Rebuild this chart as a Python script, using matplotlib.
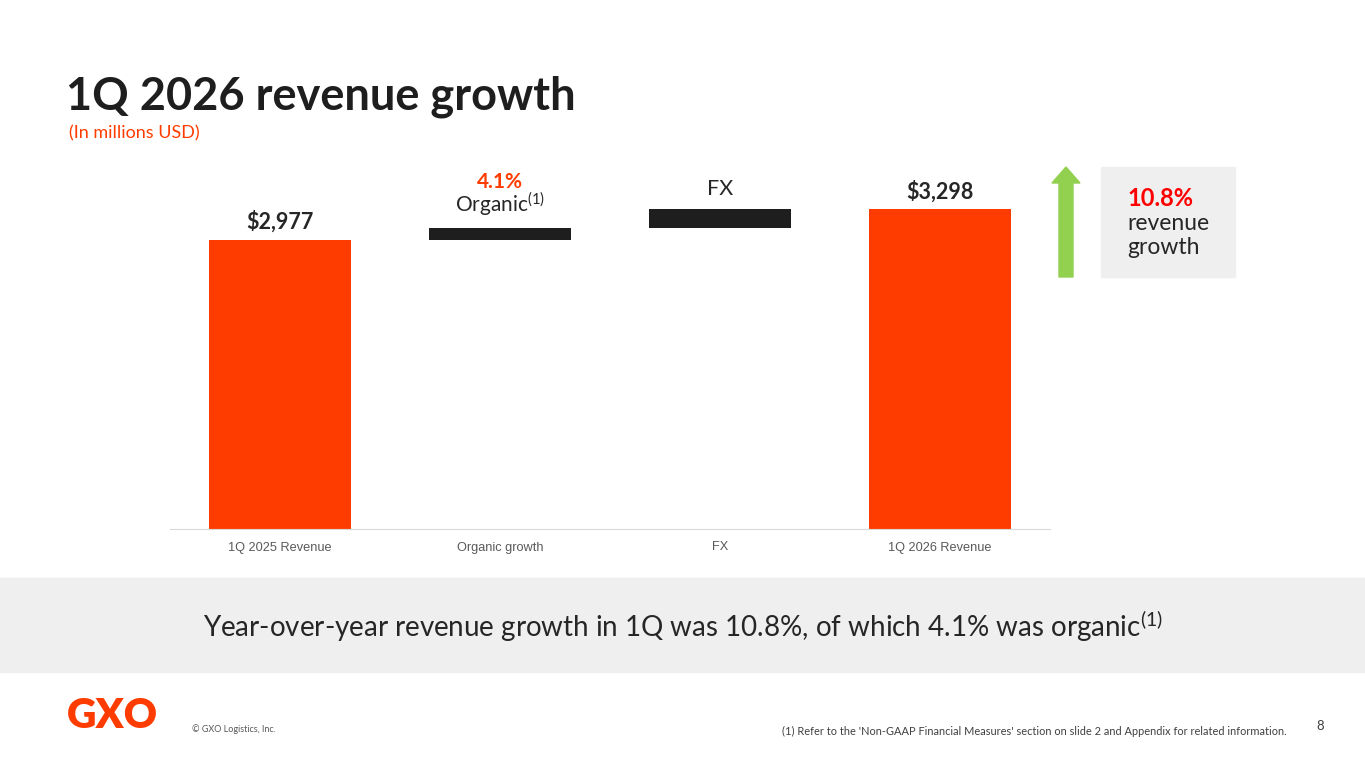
import matplotlib
matplotlib.use('Agg')
import matplotlib.pyplot as plt
from matplotlib.patches import Rectangle, FancyArrow

plt.rcParams['font.family'] = ['Lato', 'DejaVu Sans']
plt.rcParams['mathtext.default'] = 'regular'

categories = ['1Q 2025 Revenue', 'Organic growth', 'FX', '1Q 2026 Revenue']
start_rev = 2977
organic = 122
fx = 199
end_rev = 3298

heights = [start_rev, organic, fx, end_rev]
bottoms = [0, start_rev, start_rev + organic, 0]
colors = ['#FF3C00', '#1E1E1E', '#1E1E1E', '#FF3C00']

orange = '#FF3C00'
dark = '#1E1E1E'

fig = plt.figure(figsize=(13.65, 7.68), dpi=100)

# axes: x 170..1050 px, baseline y=529, 2977 -> y=240
px_per_unit = (529 - 240) / start_rev
ax_top_px = 150
ax = fig.add_axes([170 / 1365, 1 - 529 / 768, 880 / 1365, (529 - ax_top_px) / 768])
ax.bar(range(4), heights, bottom=bottoms, width=0.645, color=colors)
ax.set_xlim(-0.5, 3.5)
ax.set_ylim(0, (529 - ax_top_px) / px_per_unit)
ax.set_xticks(range(4))
ax.set_xticklabels(categories, fontsize=9.2, color='#595959', family='Liberation Sans')
ax.tick_params(axis='x', length=0, pad=9)
ax.set_yticks([])
for s in ['top', 'right', 'left']:
    ax.spines[s].set_visible(False)
ax.spines['bottom'].set_color('#D9D9D9')

# bar labels
ax.text(0, start_rev + 75, r'\$2,977', ha='center', va='bottom',
        fontsize=15.5, fontweight='bold', color='#262626')
ax.text(1, start_rev + organic + 100, 'Organic$^{(1)}$', ha='center', va='bottom',
        fontsize=15, color='#262626')
ax.text(1, start_rev + organic + 370, '4.1%', ha='center', va='bottom',
        fontsize=15, fontweight='bold', color=orange)
ax.text(2, start_rev + organic + fx + 100, 'FX', ha='center', va='bottom',
        fontsize=15.5, color='#262626')
ax.text(3, end_rev + 65, r'\$3,298', ha='center', va='bottom',
        fontsize=15.5, fontweight='bold', color='#262626')

# title
fig.text(66 / 1365, 1 - 97 / 768, '1Q 2026 revenue growth', fontsize=32.5, fontweight='bold',
         color='#1E1E1E', va='center', ha='left')
fig.text(69 / 1365, 1 - 133 / 768, '(In millions USD)', fontsize=13, color=orange,
         va='center', ha='left')

# growth arrow and box
fig.patches.append(FancyArrow(1066 / 1365, 1 - 277 / 768, 0, 110 / 768, width=14 / 1365,
                              head_width=28 / 1365, head_length=16 / 768,
                              length_includes_head=True, color='#92D050',
                              transform=fig.transFigure, figure=fig))
fig.patches.append(Rectangle((1101 / 1365, 1 - 277 / 768), 134 / 1365, 110 / 768,
                             color='#EFEFEF', transform=fig.transFigure, figure=fig))
fig.text(1127 / 1365, 1 - 199 / 768, '10.8%', fontsize=17, fontweight='bold',
         color='#FF0000', va='center', ha='left')
fig.text(1127 / 1365, 1 - 224 / 768, 'revenue', fontsize=16.5, color='#262626',
         va='center', ha='left')
fig.text(1127 / 1365, 1 - 248 / 768, 'growth', fontsize=16.5, color='#262626',
         va='center', ha='left')

# bottom band
fig.patches.append(Rectangle((0, 1 - 672 / 768), 1, 94 / 768, color='#EFEFEF',
                             transform=fig.transFigure, figure=fig, zorder=0))
fig.text(683 / 1365, 1 - 626 / 768,
         'Year-over-year revenue growth in 1Q was 10.8%, of which 4.1% was organic$^{(1)}$',
         fontsize=20, color='#262626', va='center', ha='center')

# footer
fig.text(67 / 1365, 1 - 716 / 768, 'GXO', fontsize=29.5, fontweight='heavy', color=orange,
         va='center', ha='left')
fig.text(192 / 1365, 1 - 729 / 768, '© GXO Logistics, Inc.', fontsize=6.5, color='#595959',
         va='center', ha='left')
fig.text(1287 / 1365, 1 - 731 / 768,
         "(1) Refer to the 'Non-GAAP Financial Measures' section on slide 2 and Appendix for related information.",
         fontsize=7.9, color='#404040', va='center', ha='right')
fig.text(1320 / 1365, 1 - 726 / 768, '8', fontsize=9.5, color='#404040', va='center', ha='center')

fig.savefig('out.png', dpi=100)
